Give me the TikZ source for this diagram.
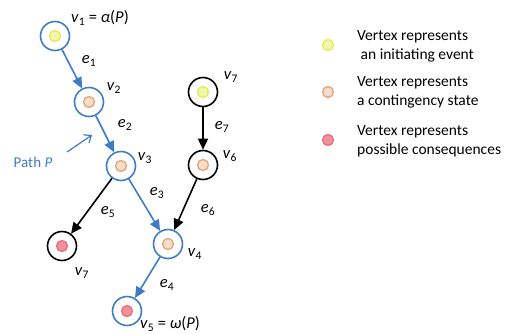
\documentclass[tikz,border=0pt]{standalone}
\usepackage{fontspec}
\setmainfont{Carlito}
\usetikzlibrary{arrows.meta}
\definecolor{pathblue}{HTML}{3E7CC6}
\definecolor{ylwfill}{HTML}{F2F7B0}
\definecolor{ylwline}{HTML}{E4EC4E}
\definecolor{orgfill}{HTML}{F4DDCB}
\definecolor{orgline}{HTML}{E8A276}
\definecolor{redfill}{HTML}{F0909A}
\definecolor{redline}{HTML}{E6717E}
\newcommand{\vx}[1]{\textit{v}\textsubscript{#1}}
\newcommand{\ed}[1]{\textit{e}\textsubscript{#1}}
\tikzset{
  vtx/.style={circle, draw, line width=1.6pt, minimum size=29pt, inner sep=0pt},
  pvtx/.style={vtx, draw=pathblue},
  ovtx/.style={vtx, draw=black},
  dotY/.style={circle, minimum size=11pt, inner sep=0pt, line width=1.3pt, draw=ylwline, fill=ylwfill},
  dotO/.style={circle, minimum size=11pt, inner sep=0pt, line width=1.3pt, draw=orgline, fill=orgfill},
  dotR/.style={circle, minimum size=11pt, inner sep=0pt, line width=1.3pt, draw=redline, fill=redfill},
  pedge/.style={draw=pathblue, line width=1.6pt, -{Triangle[length=11pt,width=10pt]}},
  oedge/.style={draw=black, line width=1.6pt, -{Triangle[length=11pt,width=10pt]}},
  lbl/.style={font=\fontsize{16.5}{18}\selectfont, inner sep=0pt},
  legtxt/.style={font=\fontsize{15.5}{19}\selectfont, inner sep=0pt, align=left, anchor=west},
}
\begin{document}
\begin{tikzpicture}[x=1pt,y=-1pt]
\useasboundingbox (0,0) rectangle (507,333);
% vertices
\node[pvtx] (v1) at (55,36) {};
\node[pvtx] (v2) at (89,102) {};
\node[pvtx] (v3) at (121,166) {};
\node[pvtx] (v4) at (168,244) {};
\node[pvtx] (v5) at (127,311) {};
\node[ovtx] (v7t) at (203,92) {};
\node[ovtx] (v6) at (203,165) {};
\node[ovtx] (v7b) at (62,246) {};
% inner markers
\node[dotY] (d1) at (v1) {};
\node[dotO] (d2) at (v2) {};
\node[dotO] (d3) at (v3) {};
\node[dotO] (d4) at (v4) {};
\node[dotR] (d5) at (v5) {};
\node[dotY] (d7t) at (v7t) {};
\node[dotO] (d6) at (v6) {};
\node[dotR] (d7b) at (v7b) {};
% edges
\draw[pedge] (v1) -- (v2);
\draw[pedge] (v2) -- (v3);
\draw[pedge] (v3) -- (v4);
\draw[pedge] (v4) -- (v5);
\draw[oedge] (v3) -- (v7b);
\draw[oedge] (v7t) -- (v6);
\draw[oedge] (v6) -- (v4);
% vertex labels
\node[lbl, anchor=west] (lv1) at (71,18) {\vx{1} = \textit{α}(\textit{P})};
\node[lbl] (lv2) at (114,88) {\vx{2}};
\node[lbl] (lv3) at (145,158) {\vx{3}};
\node[lbl] (lv7t) at (231,77) {\vx{7}};
\node[lbl] (lv6) at (230,156) {\vx{6}};
\node[lbl] (lv7b) at (82,273) {\vx{7}};
\node[lbl] (lv4) at (195,254) {\vx{4}};
\node[lbl, anchor=west] (lv5) at (140,324) {\vx{5} = \textit{ω}(\textit{P})};
% edge labels
\node[lbl] (le1) at (89,61) {\ed{1}};
\node[lbl] (le2) at (125,125) {\ed{2}};
\node[lbl] (le3) at (157,193) {\ed{3}};
\node[lbl] (le5) at (108,212) {\ed{5}};
\node[lbl] (le6) at (208,210) {\ed{6}};
\node[lbl] (le7) at (222,127) {\ed{7}};
\node[lbl] (le4) at (167,285) {\ed{4}};
% path annotation
\node[text=pathblue, font=\fontsize{15}{17}\selectfont, inner sep=0pt] (pathP) at (33,162) {Path \textit{P}};
\coordinate (pa) at (67,152);
\coordinate (pb) at (92,135);
\draw[pathblue, line width=1.2pt, -{Straight Barb[length=6pt,width=10pt]}] (pa) -- (pb);
% legend
\node[dotY] (k1) at (328,45) {};
\node[dotO] (k2) at (328,92) {};
\node[dotR] (k3) at (328,140) {};
\node[legtxt] (t1) at (357,46) {Vertex represents\\\ an initiating event};
\node[legtxt] (t2) at (357,92) {Vertex represents\\a contingency state};
\node[legtxt] (t3) at (357,141) {Vertex represents\\possible consequences};
\end{tikzpicture}
\end{document}
